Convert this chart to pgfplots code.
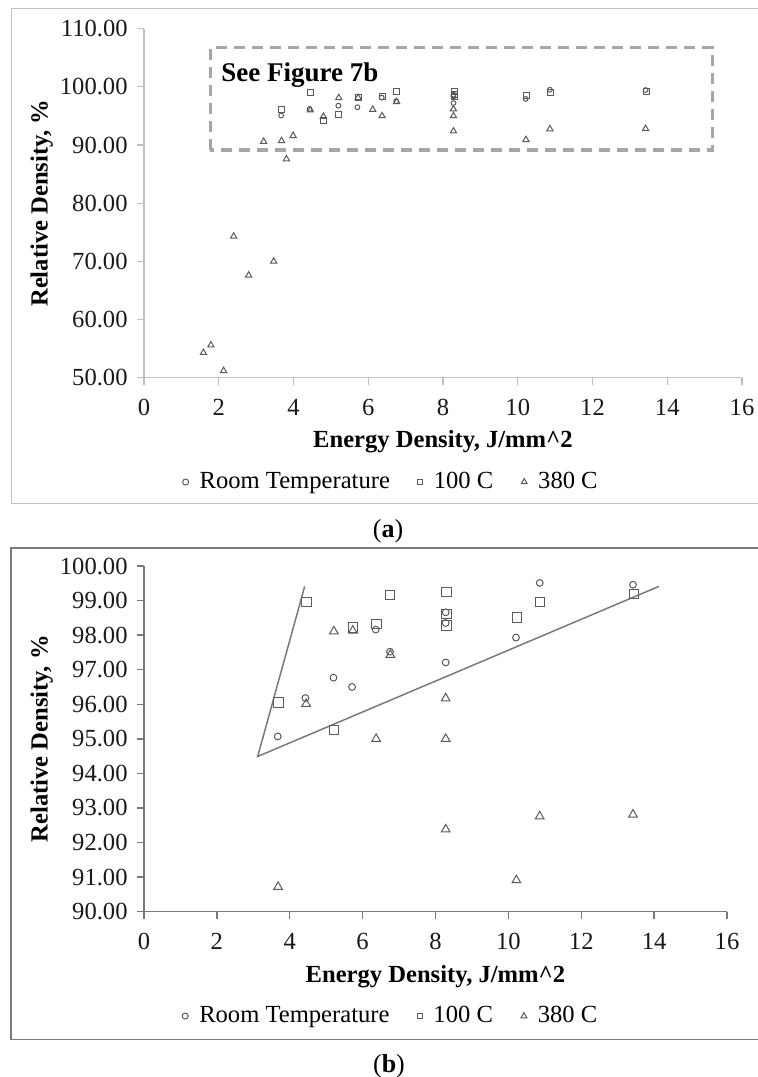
\documentclass[border=0pt]{standalone}
\usepackage{fontspec}
\setmainfont{Liberation Serif}
\usepackage{pgfplots}
\pgfplotsset{compat=1.18}

\definecolor{axisA}{HTML}{BFBFBF}
\definecolor{axisB}{HTML}{7A7A7A}
\definecolor{markgray}{HTML}{5A5A5A}
\definecolor{boxgray}{HTML}{A6A6A6}

\pgfplotsset{
  panel/.style={
    scale only axis, axis lines=left, clip=false,
    xmin=0, xmax=16, xtick={0,2,...,16},
    tick align=outside, major tick length=3.5pt,
    /pgf/number format/assume math mode=true,
    tick label style={font=\fontsize{12.3}{14}\selectfont, text=black!90},
    xticklabel style={anchor=base, inner sep=0pt, yshift=-15.5pt},
    yticklabel style={anchor=east, inner sep=0pt, xshift=-4.5pt,
      /pgf/number format/fixed, /pgf/number format/fixed zerofill,
      /pgf/number format/precision=2},
    label style={font=\bfseries\fontsize{12.3}{14}\selectfont},
    xlabel={Energy Density, J/mm\textasciicircum 2},
    ylabel={Relative Density, \%},
    legend columns=3,
    legend style={draw=none, fill=none, anchor=center,
      font=\fontsize{12.3}{14}\selectfont,
      /tikz/every odd column/.append style={column sep=3.5pt},
      /tikz/every even column/.append style={column sep=12pt}},
    legend image code/.code={\draw[#1] plot coordinates {(0pt,0pt)};},
  },
  rt/.style={only marks, mark=o, draw=markgray, line width=0.5pt},
  hc/.style={only marks, mark=square, draw=markgray, line width=0.5pt},
  tc/.style={only marks, mark=triangle, draw=markgray, line width=0.5pt},
}

\begin{document}
\begin{tikzpicture}[x=1pt,y=1pt]
\useasboundingbox (0,0) rectangle (378.5,538.5);
\draw[axisA, line width=0.5pt] (5.5,286.5) rectangle (390,534);
\draw[axisB, line width=0.75pt] (5.5,18.75) rectangle (390,264.5);

% (a) full range
\begin{axis}[panel, at={(72pt,349.65pt)}, anchor=south west,
  width=299pt, height=174.5pt, ymin=50, ymax=110, ytick={50,60,...,110},
  axis line style={-, axisA, line width=0.6pt}, tick style={axisA, line width=0.6pt},
  xlabel style={at={(axis description cs:0.5,-0.2006)}, anchor=base},
  ylabel style={at={(axis description cs:-0.1612,0.5)}, anchor=base},
  legend style={at={(axis description cs:0.415,-0.299)}}]
\addplot[rt, mark size=1.2pt, forget plot] coordinates {
 (3.67,95.07) (4.43,96.18) (5.20,96.77) (5.71,96.50) (6.36,98.16) (6.75,97.52)
 (8.28,98.66) (8.28,98.35) (8.28,97.21) (10.21,97.93) (10.86,99.51) (13.42,99.46)};
\addplot[hc, mark size=1.5pt, forget plot] coordinates {
 (3.69,96.05) (4.46,98.97) (4.80,94.30) (5.21,95.26) (5.73,98.22) (6.38,98.32) (6.76,99.15)
 (8.30,99.24) (8.30,98.62) (8.30,98.28) (10.23,98.51) (10.87,98.97) (13.44,99.18)};
\addplot[tc, mark size=1.8pt, forget plot] coordinates {
 (1.59,54.3) (1.79,55.6) (2.13,51.2) (2.40,74.3) (2.80,67.6) (3.47,70.0)
 (3.20,90.6) (3.68,90.72) (3.81,87.6) (3.99,91.6) (4.45,96.01) (4.80,94.9)
 (5.21,98.11) (5.73,98.13) (6.12,96.1) (6.37,95.00) (6.76,97.43)
 (8.28,96.17) (8.28,95.00) (8.28,92.38) (10.22,90.91) (10.86,92.76) (13.42,92.81)};
\draw[boxgray, line width=1.6pt, dash pattern=on 5.5pt off 3.5pt]
  (axis cs:1.77,89.15) rectangle (axis cs:15.22,106.7);
\node[anchor=base west, inner sep=0pt, font=\bfseries\fontsize{13.5}{15}\selectfont]
  at (axis cs:2.06,100.92) {See Figure 7b};
\addlegendimage{rt, mark size=1.5pt}
\addlegendentry{Room Temperature}
\addlegendimage{hc, mark size=1.25pt}
\addlegendentry{100 C}
\addlegendimage{tc, mark size=1.7pt}
\addlegendentry{380 C}
\end{axis}
\node[font=\fontsize{13}{15}\selectfont] at (194,272.65) {(\textbf{a})};

% (b) zoomed range
\begin{axis}[panel, at={(72pt,82.65pt)}, anchor=south west,
  width=291.5pt, height=172.85pt, ymin=90, ymax=100, ytick={90,91,...,100},
  axis line style={-, axisB, line width=0.7pt}, tick style={axisB, line width=0.7pt},
  xlabel style={at={(axis description cs:0.5,-0.2034)}, anchor=base},
  ylabel style={at={(axis description cs:-0.1654,0.5)}, anchor=base},
  legend style={at={(axis description cs:0.425,-0.302)}}]
\addplot[draw=axisB, line width=0.75pt, forget plot] coordinates {
 (4.41,99.41) (3.12,94.49) (14.13,99.41)};
\addplot[rt, mark size=1.7pt, forget plot] coordinates {
 (3.67,95.07) (4.43,96.18) (5.20,96.77) (5.71,96.50) (6.36,98.16) (6.75,97.52)
 (8.28,98.66) (8.28,98.35) (8.28,97.21) (10.21,97.93) (10.86,99.51) (13.42,99.46)};
\addplot[hc, mark size=2.3pt, forget plot] coordinates {
 (3.69,96.05) (4.46,98.97) (5.21,95.26) (5.73,98.22) (6.38,98.32) (6.76,99.15)
 (8.30,99.24) (8.30,98.62) (8.30,98.28) (10.23,98.51) (10.87,98.97) (13.44,99.18)};
\addplot[tc, mark size=2.5pt, forget plot] coordinates {
 (3.68,90.72) (4.45,96.01) (5.21,98.11) (5.73,98.13) (6.37,95.00) (6.76,97.43)
 (8.28,96.17) (8.28,95.00) (8.28,92.38) (10.22,90.91) (10.86,92.76) (13.42,92.81)};
\addlegendimage{rt, mark size=1.5pt}
\addlegendentry{Room Temperature}
\addlegendimage{hc, mark size=1.25pt}
\addlegendentry{100 C}
\addlegendimage{tc, mark size=1.7pt}
\addlegendentry{380 C}
\end{axis}
\node[font=\fontsize{13}{15}\selectfont] at (194.5,5.5) {(\textbf{b})};
\end{tikzpicture}
\end{document}
